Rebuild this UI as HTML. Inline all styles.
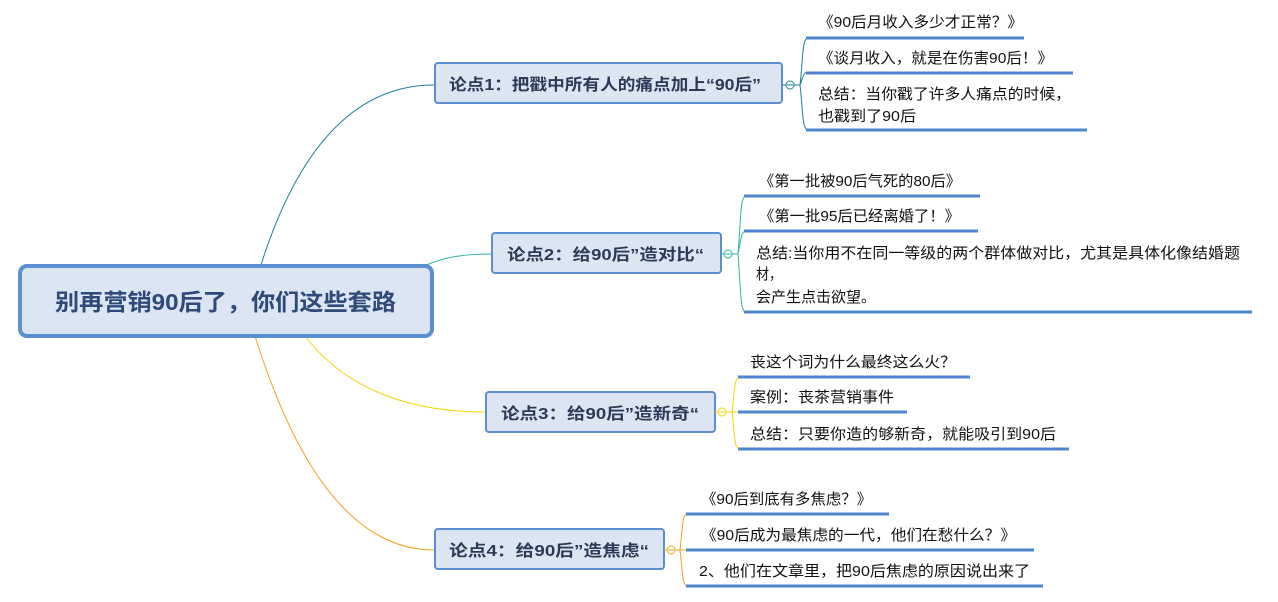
<!DOCTYPE html>
<html><head><meta charset="utf-8"><style>
html,body{margin:0;padding:0;background:#fff;}
svg{display:block;}
text{font-family:"Liberation Sans","Noto Sans CJK SC",sans-serif;}
.t{font-size:16px;font-weight:bold;fill:#2b3a55;}
.l{font-size:15px;fill:#111;}
.u{stroke:#4f86cf;stroke-width:3;}
.b{fill:#dce6f2;stroke:#5b8fd0;stroke-width:2;}
</style></head><body>
<svg width="1278" height="602" viewBox="0 0 1278 602" xmlns="http://www.w3.org/2000/svg">
<path d="M260 268 C300 140 360 85 434 85" fill="none" stroke="#1f7f9a" stroke-width="1"/>
<path d="M420 268 C440 258 460 254 491 254" fill="none" stroke="#2bb5a0" stroke-width="1"/>
<path d="M305 336 C350 395 420 412 485 412" fill="none" stroke="#f5d300" stroke-width="1"/>
<path d="M255 336 C300 480 360 550 434 550" fill="none" stroke="#f5a020" stroke-width="1"/>
<rect x="20" y="266" width="412" height="70" rx="7" fill="#dce6f2" stroke="#5b8fd0" stroke-width="4"/>
<text x="55" y="310" textLength="341" lengthAdjust="spacingAndGlyphs" style="font-size:23px;font-weight:bold;fill:#2f4a78">别再营销90后了，你们这些套路</text>
<!-- T1 -->
<rect class="b" x="435" y="63" width="347" height="40" rx="3"/>
<text class="t" x="449" y="90" textLength="312" lengthAdjust="spacingAndGlyphs">论点1：把戳中所有人的痛点加上“90后”</text>
<path d="M782 85 H800 M800 85 C803 60 802 38 808 38 M800 85 C803 78 803 72 808 72 M800 85 C803 110 802 130 808 130" fill="none" stroke="#1f7f9a"/>
<circle cx="790" cy="85" r="4" fill="#fff" stroke="#1f7f9a"/><line x1="787" y1="85" x2="793" y2="85" stroke="#1f7f9a"/>
<line class="u" x1="806" y1="38" x2="1024" y2="38"/>
<line class="u" x1="806" y1="73" x2="1073" y2="73"/>
<line class="u" x1="806" y1="130" x2="1087" y2="130"/>
<text class="l" x="818" y="27" textLength="205" lengthAdjust="spacingAndGlyphs">《90后月收入多少才正常？》</text>
<text class="l" x="818" y="63" textLength="235" lengthAdjust="spacingAndGlyphs">《谈月收入，就是在伤害90后！》</text>
<text class="l" x="818" y="99" textLength="253" lengthAdjust="spacingAndGlyphs">总结：当你戳了许多人痛点的时候，</text>
<text class="l" x="818" y="121" textLength="98" lengthAdjust="spacingAndGlyphs">也戳到了90后</text>
<!-- T2 -->
<rect class="b" x="492" y="233" width="229" height="40" rx="3"/>
<text class="t" x="507" y="260" textLength="197" lengthAdjust="spacingAndGlyphs">论点2：给90后”造对比“</text>
<path d="M721 254 H738 M738 254 C741 220 740 196 746 196 M738 254 C741 240 741 231 746 231 M738 254 C741 290 740 312 746 312" fill="none" stroke="#2bb5a0"/>
<circle cx="728" cy="254" r="4" fill="#fff" stroke="#2bb5a0"/><line x1="725" y1="254" x2="731" y2="254" stroke="#2bb5a0"/>
<line class="u" x1="744" y1="196" x2="980" y2="196"/>
<line class="u" x1="744" y1="231" x2="978" y2="231"/>
<line class="u" x1="744" y1="312" x2="1252" y2="312"/>
<text class="l" x="759" y="186" textLength="202" lengthAdjust="spacingAndGlyphs">《第一批被90后气死的80后》</text>
<text class="l" x="759" y="221" textLength="201" lengthAdjust="spacingAndGlyphs">《第一批95后已经离婚了！》</text>
<text class="l" x="756" y="258" textLength="484" lengthAdjust="spacingAndGlyphs">总结:当你用不在同一等级的两个群体做对比，尤其是具体化像结婚题</text>
<text class="l" x="756" y="279" textLength="26" lengthAdjust="spacingAndGlyphs">材，</text>
<text class="l" x="756" y="302" textLength="120" lengthAdjust="spacingAndGlyphs">会产生点击欲望。</text>
<!-- T3 -->
<rect class="b" x="486" y="392" width="229" height="40" rx="3"/>
<text class="t" x="501" y="419" textLength="198" lengthAdjust="spacingAndGlyphs">论点3：给90后”造新奇“</text>
<path d="M715 412 H732 M732 412 C735 390 734 377 740 377 M732 412 H740 M732 412 C735 435 734 449 740 449" fill="none" stroke="#f5d300"/>
<circle cx="722" cy="412" r="4" fill="#fff" stroke="#f5d300"/><line x1="719" y1="412" x2="725" y2="412" stroke="#f5d300"/>
<line class="u" x1="738" y1="377" x2="970" y2="377"/>
<line class="u" x1="738" y1="412" x2="907" y2="412"/>
<line class="u" x1="738" y1="449" x2="1069" y2="449"/>
<text class="l" x="750" y="367" textLength="206" lengthAdjust="spacingAndGlyphs">丧这个词为什么最终这么火？</text>
<text class="l" x="750" y="402" textLength="144" lengthAdjust="spacingAndGlyphs">案例：丧茶营销事件</text>
<text class="l" x="750" y="439" textLength="306" lengthAdjust="spacingAndGlyphs">总结：只要你造的够新奇，就能吸引到90后</text>
<!-- T4 -->
<rect class="b" x="435" y="529" width="229" height="40" rx="3"/>
<text class="t" x="449" y="556" textLength="200" lengthAdjust="spacingAndGlyphs">论点4：给90后”造焦虑“</text>
<path d="M664 550 H680 M680 550 C683 525 682 514 688 514 M680 550 H688 M680 550 C683 575 682 586 688 586" fill="none" stroke="#f5a020"/>
<circle cx="671" cy="550" r="4" fill="#fff" stroke="#f5a020"/><line x1="668" y1="550" x2="674" y2="550" stroke="#f5a020"/>
<line class="u" x1="686" y1="514" x2="889" y2="514"/>
<line class="u" x1="686" y1="550" x2="1034" y2="550"/>
<line class="u" x1="686" y1="586" x2="1043" y2="586"/>
<text class="l" x="701" y="504" textLength="171" lengthAdjust="spacingAndGlyphs">《90后到底有多焦虑？》</text>
<text class="l" x="701" y="540" textLength="315" lengthAdjust="spacingAndGlyphs">《90后成为最焦虑的一代，他们在愁什么？》</text>
<text class="l" x="699" y="576" textLength="331" lengthAdjust="spacingAndGlyphs">2、他们在文章里，把90后焦虑的原因说出来了</text>
</svg>
</body></html>
